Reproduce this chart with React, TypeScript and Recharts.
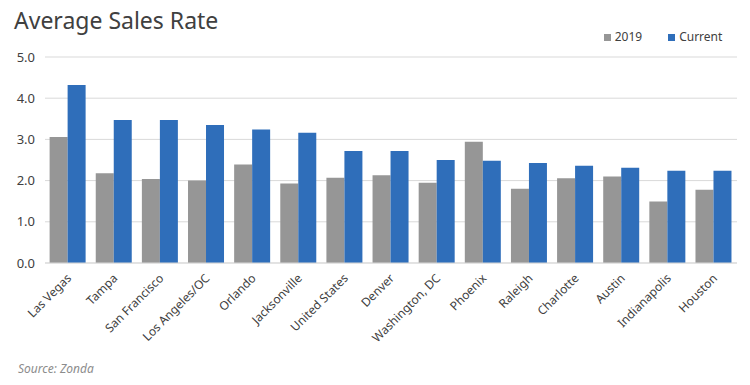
import React from 'react';
import {
  BarChart, Bar, XAxis, YAxis, CartesianGrid, Legend,
} from 'recharts';

// Data
const MARKETS = [
  'Las Vegas', 'Tampa', 'San Francisco', 'Los Angeles/OC', 'Orlando',
  'Jacksonville', 'United States', 'Denver', 'Washington, DC', 'Phoenix',
  'Raleigh', 'Charlotte', 'Austin', 'Indianapolis', 'Houston',
];
const RATE_2019 = [3.06, 2.18, 2.04, 2.0, 2.39, 1.93, 2.07, 2.13, 1.95, 2.94, 1.8, 2.06, 2.1, 1.49, 1.78];
const RATE_CURRENT = [4.32, 3.47, 3.47, 3.35, 3.24, 3.16, 2.72, 2.72, 2.5, 2.48, 2.43, 2.36, 2.31, 2.24, 2.24];
const Y_TICKS = [0, 1, 2, 3, 4, 5];

const COLORS = {
  PRIOR: '#969696',
  CURRENT: '#2f6eba',
  GRID: '#d9d9d9',
  TEXT: '#404040',
};

const FONT = '"Noto Sans", sans-serif';

const data = MARKETS.map((name, i) => ({
  name,
  prior: RATE_2019[i],
  current: RATE_CURRENT[i],
}));

// rotated category label, anchored at its end
const AngledTick = ({ x, y, payload }: any) => (
  <text
    x={x + 4}
    y={y + 8}
    transform={`rotate(-45, ${x + 4}, ${y + 8})`}
    textAnchor="end"
    fontSize={12}
    fontFamily={FONT}
    fill={COLORS.TEXT}
  >
    {payload.value}
  </text>
);

export default function App() {
  return (
    <div style={{ position: 'absolute', left: 0, top: 0, width: 750, height: 385, background: '#fff', fontFamily: FONT }}>
      <div style={{ position: 'absolute', left: 14, top: 4, fontSize: 23, color: COLORS.TEXT }}>
        Average Sales Rate
      </div>
      <BarChart
        width={750}
        height={385}
        data={data}
        margin={{ top: 57, right: 13, left: 0, bottom: 10 }}
        barCategoryGap="10%"
        barGap={0}
      >
        <CartesianGrid vertical={false} stroke={COLORS.GRID} />
        <XAxis
          dataKey="name"
          interval={0}
          height={112}
          tick={<AngledTick />}
          tickLine={false}
          axisLine={{ stroke: COLORS.GRID }}
        />
        <YAxis
          width={45}
          domain={[0, 5]}
          ticks={Y_TICKS}
          tickFormatter={(v) => v.toFixed(1)}
          axisLine={false}
          tickLine={false}
          tickSize={0}
          tickMargin={10}
          tick={{ fontSize: 13, fill: COLORS.TEXT, fontFamily: FONT }}
        />
        <Legend
          layout="horizontal"
          verticalAlign="middle"
          align="center"
          iconType="square"
          iconSize={7}
          wrapperStyle={{ top: 28, left: 598, width: 140, fontSize: 12, fontFamily: FONT }}
          formatter={(value) => (
            <span style={{ color: COLORS.TEXT, marginRight: value === '2019' ? 16 : 0 }}>{value}</span>
          )}
        />
        <Bar dataKey="prior" name="2019" fill={COLORS.PRIOR} isAnimationActive={false} />
        <Bar dataKey="current" name="Current" fill={COLORS.CURRENT} isAnimationActive={false} />
      </BarChart>
      <div style={{ position: 'absolute', left: 18, top: 360, fontSize: 12, fontStyle: 'italic', color: '#8c8c8c' }}>
        Source: Zonda
      </div>
    </div>
  );
}
